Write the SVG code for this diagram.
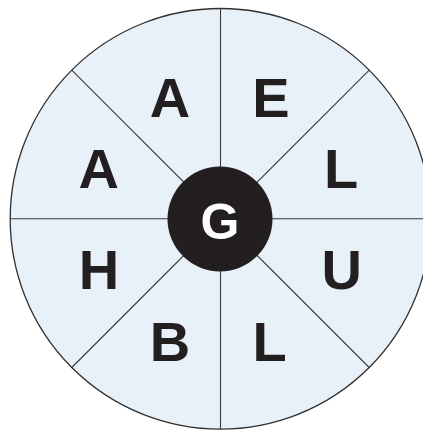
<svg xmlns="http://www.w3.org/2000/svg" width="423" height="430" viewBox="0 0 423 430">
<style>
.seg{stroke:#3a3a3a;stroke-width:1.1;fill:none}
.lt{font-family:"Liberation Sans",Arial,sans-serif;font-weight:bold;font-size:56px;fill:#231f20;text-anchor:middle}
.ct{font-family:"Liberation Sans",Arial,sans-serif;font-weight:bold;font-size:50px;fill:#ffffff;text-anchor:middle}
</style>
<rect width="423" height="430" fill="#ffffff"/>
<g id="wheel">
<circle cx="220.5" cy="218.8" r="210.3" fill="#e8f0f8" stroke="#2f2f2f" stroke-width="1.3"/>
</g>
<g id="connectors">
<line class="seg" x1="220.5" y1="8.5" x2="220.5" y2="429.1"/>
<line class="seg" x1="10.2" y1="218.8" x2="430.8" y2="218.8"/>
<line class="seg" x1="71.8" y1="70.1" x2="369.2" y2="367.5"/>
<line class="seg" x1="369.2" y1="70.1" x2="71.8" y2="367.5"/>
</g>
<g id="hub">
<circle cx="220" cy="219" r="52.5" fill="#231f20"/>
<text class="ct" x="220" y="238.5">G</text>
</g>
<g id="n1"><text class="lt" x="170" y="117">A</text></g>
<g id="n2"><text class="lt" x="271" y="117">E</text></g>
<g id="n3"><text class="lt" x="341" y="188.3">L</text></g>
<g id="n4"><text class="lt" x="341.7" y="289">U</text></g>
<g id="n5"><text class="lt" x="269.5" y="360.5">L</text></g>
<g id="n6"><text class="lt" x="170" y="360.5">B</text></g>
<g id="n7"><text class="lt" x="99" y="289">H</text></g>
<g id="n8"><text class="lt" x="98.7" y="188.3">A</text></g>
</svg>
